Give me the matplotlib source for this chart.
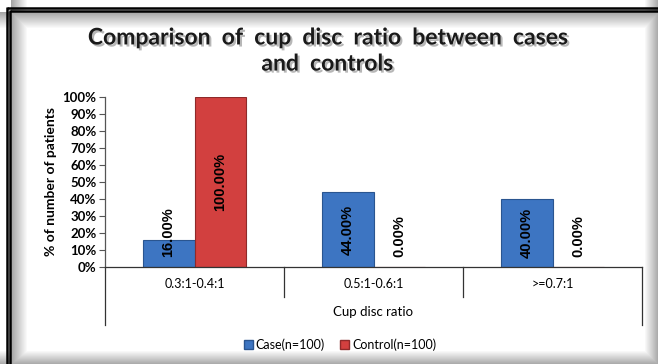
import matplotlib
matplotlib.use("Agg")
import matplotlib.pyplot as plt
import matplotlib.patheffects as pe
from matplotlib.lines import Line2D
from matplotlib.patches import Patch
import numpy as np

categories = ["0.3:1-0.4:1", "0.5:1-0.6:1", ">=0.7:1"]
case_pct = [16.0, 44.0, 40.0]
control_pct = [100.0, 0.0, 0.0]
series_names = ["Case(n=100)", "Control(n=100)"]
y_ticks = [0, 10, 20, 30, 40, 50, 60, 70, 80, 90, 100]

W, H = 658, 364
fig = plt.figure(figsize=(W / 100, H / 100), dpi=100)

# chart-area frame: white with soft inner shading along the edges
bg = fig.add_axes([0, 0, 1, 1], zorder=-5)
bg.set_axis_off()
xx = np.arange(W)[None, :].astype(float)
yy = np.arange(H)[:, None].astype(float)
shade = np.zeros((H, W))
shade = np.maximum(shade, np.clip(1 - (xx - 11) / 16, 0, 1) * 0.35 * (xx >= 11))
shade = np.maximum(shade, np.clip(1 - (yy - 12) / 16, 0, 1) * 0.35 * (yy >= 12))
shade = np.maximum(shade, np.clip((xx - 644) / 14, 0, 1) * 0.35)
shade = np.maximum(shade, np.clip((yy - 350) / 14, 0, 1) * 0.35)
img = np.ones((H, W, 3)) * (1 - shade)[:, :, None]
bg.imshow(img, extent=[0, W, H, 0], aspect="auto", interpolation="bilinear")
bg.set_xlim(0, W)
bg.set_ylim(H, 0)
for off in (7, 10):
    bg.plot([off, off], [off, H], color="black", lw=1.8, solid_capstyle="butt")
    bg.plot([off, W], [off + 1, off + 1], color="black", lw=1.8, solid_capstyle="butt")

ax = fig.add_axes([105 / W, 1 - 267 / H, (642 - 105) / W, 170 / H])
ax.set_facecolor("none")

x = np.arange(len(categories))
w = 0.29
blue, red = "#3d75c2", "#d2403f"
bars_case = ax.bar(x - w / 2, case_pct, w, color=blue, edgecolor="#2a5590", linewidth=0.8, zorder=2)
bars_ctrl = ax.bar(x + w / 2, control_pct, w, color=red, edgecolor="#8e2a2a", linewidth=0.8, zorder=2)

# value labels: centred in the bar, lifted off the axis when the bar is short
for bars, vals in ((bars_case, case_pct), (bars_ctrl, control_pct)):
    for b, v in zip(bars, vals):
        cx = b.get_x() + b.get_width() / 2
        if v / 2 >= 16:
            ax.text(cx, v / 2, f"{v:.2f}%", rotation=90, ha="center", va="center",
                    fontsize=10.5, fontweight="bold", family="Liberation Sans", zorder=3)
        else:
            ax.text(cx, 6, f"{v:.2f}%", rotation=90, ha="center", va="bottom",
                    fontsize=10.5, fontweight="bold", family="Liberation Sans", zorder=3)

ax.set_xlim(-0.5, len(categories) - 0.5)
ax.set_ylim(0, 100)
ax.set_yticks(y_ticks)
ax.set_yticklabels([f"{t}%" for t in y_ticks], fontsize=9.5, fontweight="bold", family="Lato")
ax.tick_params(axis="y", length=4, width=0.8, color="#555555", pad=2)
ax.set_xticks(x)
ax.set_xticklabels(categories, fontsize=9, family="Lato")
ax.tick_params(axis="x", length=0, pad=8)
for s in ("top", "right"):
    ax.spines[s].set_visible(False)
ax.spines["left"].set_color("#555555")
ax.spines["bottom"].set_color("#333333")
ax.spines["left"].set_linewidth(0.9)
ax.spines["bottom"].set_linewidth(0.9)

# category separators below the axis
for xv, depth in ((-0.5, 58), (0.5, 30), (1.5, 30), (2.5, 58)):
    ax.add_line(Line2D([xv, xv], [0, -depth / 170 * 100], color="#333333", lw=0.9,
                       clip_on=False))

ax.set_ylabel("% of number of patients", fontsize=10, fontweight="bold", family="Lato",
              labelpad=4)
fig.text(373 / W, 1 - 312 / H, "Cup disc ratio", ha="center", va="center",
         fontsize=9.5, family="Lato")

fig.text(327 / W, 1 - 51 / H, "Comparison  of  cup  disc  ratio  between  cases\nand  controls",
         ha="center", va="center", fontsize=16.5, fontweight="bold", family="Lato",
         linespacing=1.3, color="#1a1a1a",
         path_effects=[pe.withSimplePatchShadow(offset=(1.5, -1.5), shadow_rgbFace="#888888",
                                                alpha=0.6)])

handles = [Patch(facecolor=blue, edgecolor="#2a5590"), Patch(facecolor=red, edgecolor="#8e2a2a")]
fig.legend(handles, series_names, loc="center", bbox_to_anchor=(340 / W, 1 - 345 / H),
           ncol=2, frameon=False, handlelength=0.75, handleheight=0.75, handletextpad=0.2,
           columnspacing=1.2, prop={"family": "Lato", "size": 9})

fig.savefig("out.png", dpi=100)
